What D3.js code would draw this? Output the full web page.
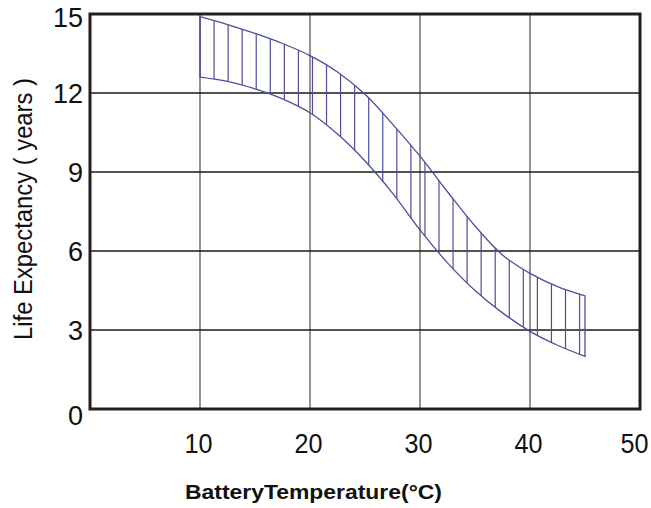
<!DOCTYPE html>
<html>
<head>
<meta charset="utf-8">
<script src="https://cdn.jsdelivr.net/npm/d3@7"></script>
<style>
  html, body { margin: 0; padding: 0; background: #fff; }
  svg { display: block; font-family: "Liberation Sans", Arial, Helvetica, sans-serif; }
</style>
</head>
<body>
<svg id="chart" width="651" height="508"></svg>
<script>
// ---- data ----
const temps      = [10, 12.5, 15, 17.5, 20, 22.5, 25, 27.5, 30, 32.5, 35, 37.5, 40, 42.5, 45];
const upperLife  = [14.9, 14.6, 14.26, 13.88, 13.42, 12.8, 11.95, 10.82, 9.6, 8.25, 6.95, 5.85, 5.15, 4.65, 4.3];
const lowerLife  = [12.6, 12.44, 12.16, 11.78, 11.25, 10.44, 9.42, 8.2, 6.8, 5.55, 4.5, 3.65, 2.95, 2.42, 2.0];
const xTicks     = [10, 20, 30, 40, 50];
const yTicks     = [0, 3, 6, 9, 12, 15];
const xGrid      = [10, 20, 30, 40];
const yGrid      = [3, 6, 9, 12];
const hatchStep  = 1.278;

const svg = d3.select("#chart");
const x = d3.scaleLinear().domain([0, 50]).range([90, 640]);
const y = d3.scaleLinear().domain([0, 15]).range([409, 14]);

const bandColor = "#4d4d9e";

// grid lines
svg.append("g").selectAll("line").data(xGrid).join("line")
  .attr("x1", d => x(d)).attr("x2", d => x(d))
  .attr("y1", y(0)).attr("y2", y(15))
  .attr("stroke", "#7a7a7a").attr("stroke-width", 1.6);
svg.append("g").selectAll("line").data(yGrid).join("line")
  .attr("x1", x(0)).attr("x2", x(50))
  .attr("y1", d => y(d)).attr("y2", d => y(d))
  .attr("stroke", "#1a1a1a").attr("stroke-width", 1.3);

// band
const band = temps.map((t, i) => ({ t, hi: upperLife[i], lo: lowerLife[i] }));
const area = d3.area()
  .x(d => x(d.t)).y0(d => y(d.lo)).y1(d => y(d.hi))
  .curve(d3.curveCatmullRom.alpha(0.5));

svg.append("defs").append("clipPath").attr("id", "bandClip")
  .append("path").attr("d", area(band));

const hatchTemps = d3.range(temps[0], temps[temps.length - 1], hatchStep);
svg.append("g").attr("clip-path", "url(#bandClip)")
  .selectAll("line").data(hatchTemps).join("line")
  .attr("x1", d => x(d)).attr("x2", d => x(d))
  .attr("y1", y(0)).attr("y2", y(15))
  .attr("stroke", bandColor).attr("stroke-width", 1.2);

svg.append("path").attr("d", area(band))
  .attr("fill", "none").attr("stroke", bandColor).attr("stroke-width", 1.3);

// frame
svg.append("rect")
  .attr("x", x(0)).attr("y", y(15))
  .attr("width", x(50) - x(0)).attr("height", y(0) - y(15))
  .attr("fill", "none").attr("stroke", "#231f20").attr("stroke-width", 3);

// axes labels
const yAxis = d3.axisLeft(y).tickValues(yTicks).tickSize(0).tickPadding(7).tickFormat(d3.format("d"));
const gy = svg.append("g").attr("transform", `translate(${x(0)},0)`).call(yAxis);
gy.select(".domain").remove();
gy.selectAll("text").attr("font-size", 27).attr("fill", "#111")
  .attr("font-family", "'Liberation Sans', Arial, sans-serif")
  .attr("dy", d => d === 15 ? "0.47em" : (d === 0 ? "0.57em" : "0.34em"));

const xAxis = d3.axisBottom(x).tickValues(xTicks).tickSize(0).tickPadding(25).tickFormat(d3.format("d"));
const gx = svg.append("g").attr("transform", `translate(0,${y(0)})`).call(xAxis);
gx.select(".domain").remove();
gx.selectAll("text").attr("font-size", 27).attr("fill", "#111")
  .attr("font-family", "'Liberation Sans', Arial, sans-serif")
  .attr("dx", "-2")
  .attr("textLength", 28).attr("lengthAdjust", "spacingAndGlyphs");
gx.selectAll(".tick").filter(d => d === 50).select("text")
  .attr("text-anchor", "end").attr("dx", 0).attr("x", 648 - x(50));

// titles
svg.append("text")
  .attr("x", 185).attr("y", 499)
  .attr("font-size", 21).attr("font-weight", "bold").attr("fill", "#111")
  .attr("textLength", 257).attr("lengthAdjust", "spacingAndGlyphs")
  .text("BatteryTemperature(°C)");

svg.append("text")
  .attr("transform", "translate(32,340) rotate(-90)")
  .attr("font-size", 25).attr("fill", "#111")
  .attr("textLength", 262).attr("lengthAdjust", "spacingAndGlyphs")
  .text("Life Expectancy ( years )");
</script>
</body>
</html>
